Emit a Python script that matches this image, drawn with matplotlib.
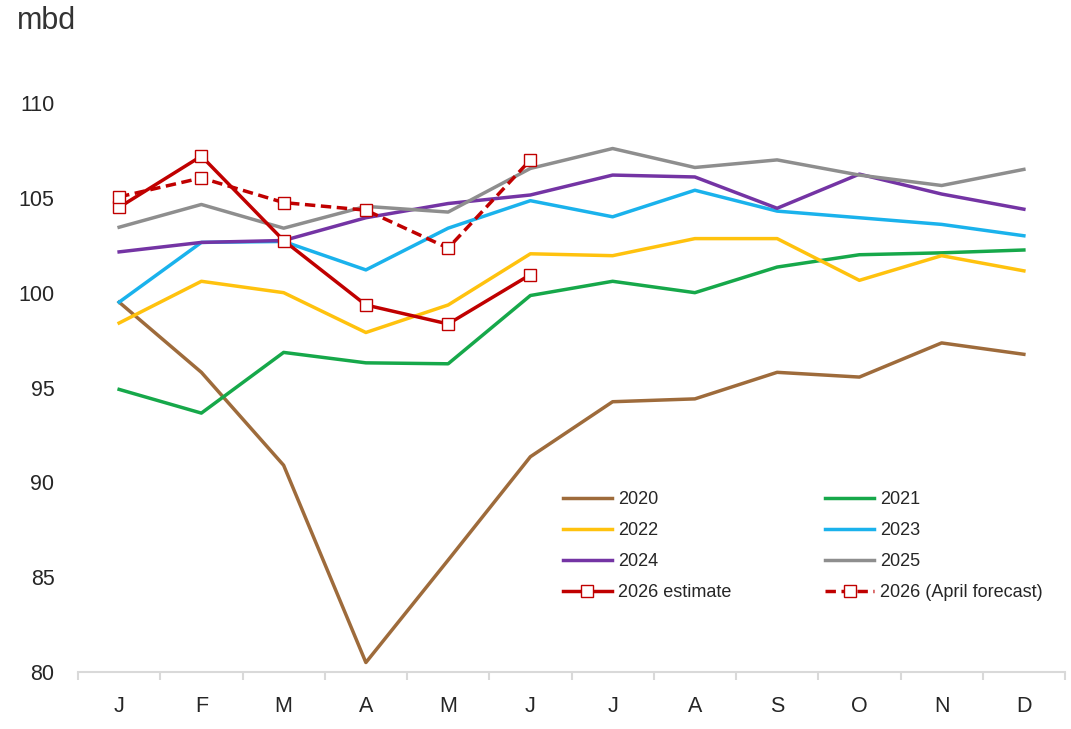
import matplotlib
matplotlib.use("Agg")
import matplotlib.pyplot as plt
from matplotlib.ticker import FixedLocator

plt.rcParams['font.family'] = ['Liberation Sans', 'DejaVu Sans']

months = ["J", "F", "M", "A", "M", "J", "J", "A", "S", "O", "N", "D"]

y2020 = [99.5, 95.8, 90.9, 80.5, 85.9, 91.35, 94.25, 94.4, 95.8, 95.55, 97.35, 96.75]
y2021 = [94.9, 93.65, 96.85, 96.3, 96.25, 99.85, 100.6, 100.0, 101.35, 102.0, 102.1, 102.25]
y2022 = [98.4, 100.6, 100.0, 97.9, 99.35, 102.05, 101.95, 102.85, 102.85, 100.65, 101.95, 101.15]
y2023 = [99.5, 102.65, 102.7, 101.2, 103.4, 104.85, 104.0, 105.4, 104.3, 103.95, 103.6, 103.0]
y2024 = [102.15, 102.65, 102.75, 103.95, 104.7, 105.15, 106.2, 106.1, 104.45, 106.25, 105.2, 104.4]
y2025 = [103.45, 104.65, 103.4, 104.55, 104.25, 106.55, 107.6, 106.6, 107.0, 106.2, 105.65, 106.5]
y2026_est = [104.5, 107.2, 102.75, 99.35, 98.35, 100.95]
y2026_apr = [105.05, 106.05, 104.75, 104.35, 102.35, 107.0]

series = [
    ("2020", y2020, "#9E6B3B"),
    ("2021", y2021, "#16A84A"),
    ("2022", y2022, "#FFC20E"),
    ("2023", y2023, "#1AB2EC"),
    ("2024", y2024, "#7434A4"),
    ("2025", y2025, "#8E8E8E"),
]

fig = plt.figure(figsize=(10.71, 7.29), dpi=100)
ax = fig.add_axes([78/1071, 1-672/729, (1065-78)/1071, (672-103)/729])

x = list(range(12))
handles = {}
for label, vals, col in series:
    h, = ax.plot(x, vals, color=col, lw=2.5, label=label)
    handles[label] = h

red = "#C00000"
h_est, = ax.plot(x[:len(y2026_est)], y2026_est, color=red, lw=2.5, marker='s',
                 markersize=8, markerfacecolor='white', markeredgecolor=red,
                 markeredgewidth=1.0, label="2026 estimate", zorder=5)
h_apr, = ax.plot(x[:len(y2026_apr)], y2026_apr, color=red, lw=2.5, ls=(0, (3.0, 1.6)),
                 marker='s', markersize=8, markerfacecolor='white', markeredgecolor=red,
                 markeredgewidth=1.0, label="2026 (April forecast)", zorder=5)

ax.set_xlim(-0.5, 11.5)
ax.set_ylim(80, 110)
ax.set_yticks([80, 85, 90, 95, 100, 105, 110])
ax.set_xticks(x)
ax.set_xticklabels(months)
ax.xaxis.set_minor_locator(FixedLocator([i - 0.5 for i in range(13)]))

for s in ["top", "right", "left"]:
    ax.spines[s].set_visible(False)
ax.spines["bottom"].set_color("#D9D9D9")
ax.spines["bottom"].set_linewidth(1.5)

ax.tick_params(axis='x', which='major', length=0, pad=17, labelsize=15.5, labelcolor="#262626")
ax.tick_params(axis='x', which='minor', length=6, width=1.5, color="#D9D9D9")
ax.tick_params(axis='y', length=0, pad=17, labelsize=15.5, labelcolor="#262626")

fig.text(17/1071, 1-21/729, "mbd", fontsize=22, color="#333333", va='center', ha='left')

# column-major fill gives row order: 2020/2021, 2022/2023, 2024/2025, est/apr
order = [handles["2020"], handles["2022"], handles["2024"], h_est,
         handles["2021"], handles["2023"], handles["2025"], h_apr]
labels = [h.get_label() for h in order]
leg = ax.legend(order, labels, ncol=2, loc='upper left',
                bbox_to_anchor=((563-78)/987, (672-491)/569),
                frameon=False, fontsize=13, handlelength=2.7, handletextpad=0.35,
                columnspacing=5.2, labelspacing=0.78, borderpad=0, borderaxespad=0)
for t in leg.get_texts():
    t.set_color("#262626")

fig.savefig("out.png", dpi=100, facecolor='white')
